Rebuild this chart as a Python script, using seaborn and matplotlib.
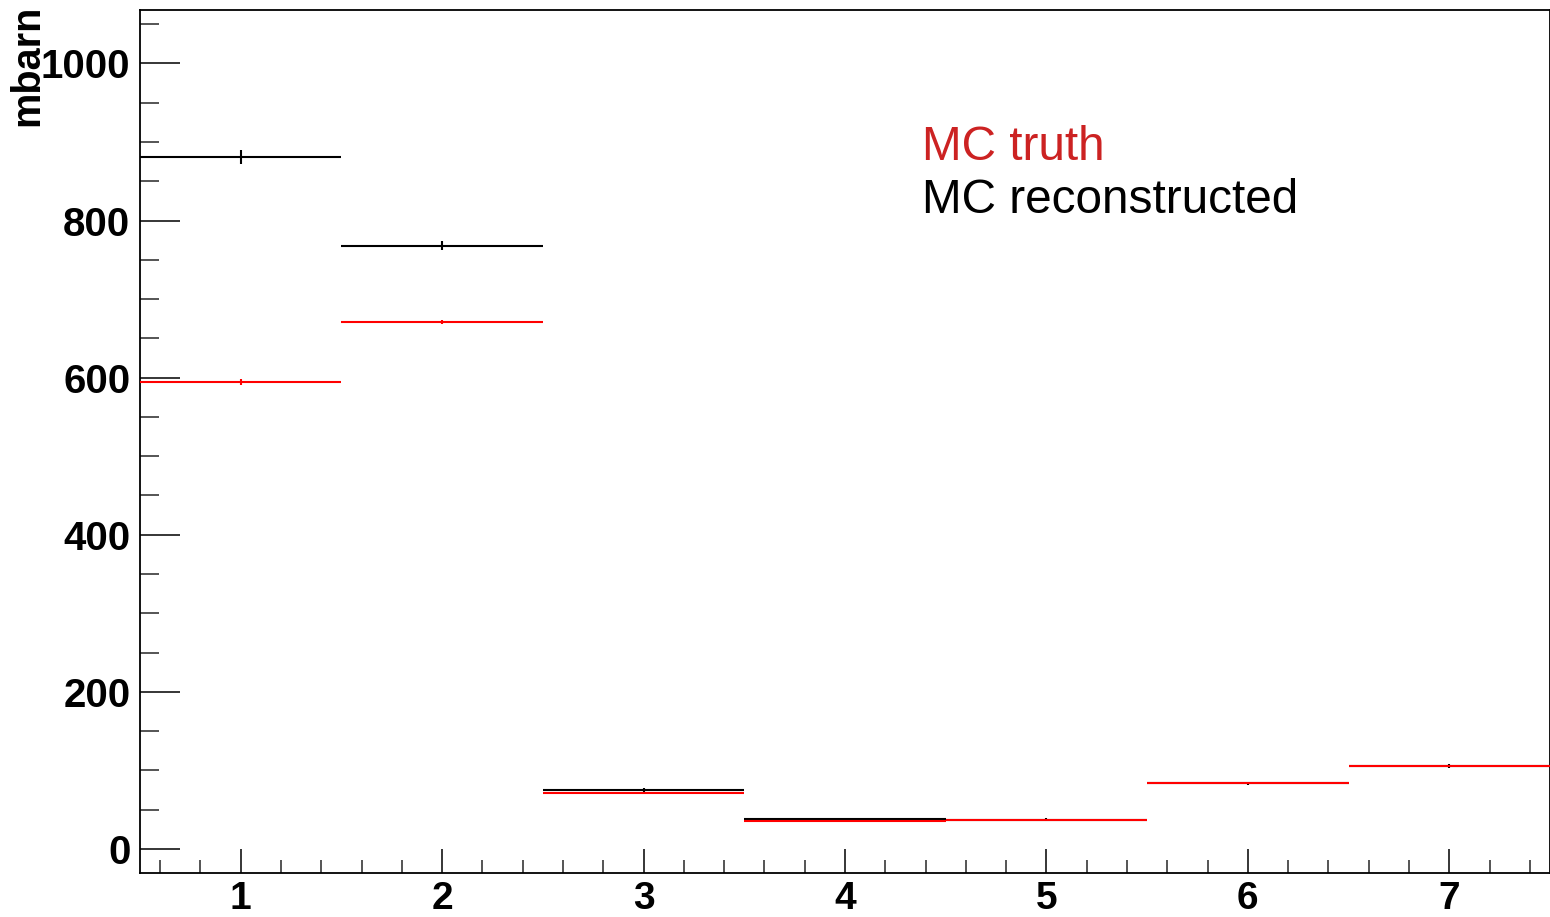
import numpy as np
import matplotlib
matplotlib.use("Agg")
import matplotlib.pyplot as plt
import seaborn as sns
from matplotlib.ticker import MultipleLocator

# ---- data ----
bins = [1, 2, 3, 4, 5, 6, 7]
reco = [881, 768, 75, 38.5, 37.5, 83.5, 106]
reco_err = [9, 6, 2, 1.5, 1.5, 2, 2.5]
truth = [594, 671, 71, 35.8, 37.5, 83.5, 106]
truth_err = [4, 2.5, 1, 1, 1, 1, 1]
legend_labels = ["MC truth", "MC reconstructed"]
y_label = "mbarn"

sns.set_style("ticks")
plt.rcParams['font.family'] = ['Liberation Sans', 'DejaVu Sans']

W, H = 1550, 917
fig = plt.figure(figsize=(W / 100, H / 100), dpi=100)
ax = fig.add_axes([140 / W, (H - 873) / H, (W - 140) / W, (873 - 10) / H])

x = np.array(bins, dtype=float)
# reconstructed (black) drawn first
ax.hlines(reco, x - 0.5, x + 0.5, color="black", lw=1.5, zorder=3)
ax.errorbar(x, reco, yerr=reco_err, fmt="none", ecolor="black", elinewidth=1.5, capsize=0, zorder=3)
# truth (red) on top
ax.hlines(truth, x - 0.5, x + 0.5, color="#ff0000", lw=1.5, zorder=4)
ax.errorbar(x, truth, yerr=truth_err, fmt="none", ecolor="#ff0000", elinewidth=1.5, capsize=0, zorder=4)

ax.set_xlim(0.5, 7.5)
ax.set_ylim(-30.6, 1068)
ax.xaxis.set_major_locator(MultipleLocator(1))
ax.xaxis.set_minor_locator(MultipleLocator(0.2))
ax.yaxis.set_major_locator(MultipleLocator(200))
ax.yaxis.set_minor_locator(MultipleLocator(50))

ax.tick_params(axis="y", which="major", direction="in", length=29, width=1.1, pad=7,
               labelsize=29, colors="black")
ax.tick_params(axis="y", which="minor", direction="in", length=14, width=1.1)
ax.tick_params(axis="x", which="major", direction="in", length=17.5, width=1.1, pad=6,
               labelsize=28, colors="black")
ax.tick_params(axis="x", which="minor", direction="in", length=9.5, width=1.1)
for lab in ax.get_xticklabels() + ax.get_yticklabels():
    lab.set_fontweight("bold")

for s in ["left", "bottom", "top", "right"]:
    ax.spines[s].set_visible(True)
    ax.spines[s].set_color("black")
    ax.spines[s].set_linewidth(1.3)

fig.text(27 / W, 1 - 5 / H, y_label, rotation=90, ha="center", va="top",
         fontsize=28.5, fontweight="bold", color="black")

fig.text(922 / W, 1 - 160 / H, legend_labels[0], ha="left", va="baseline",
         fontsize=34.4, color="#cc2222")
fig.text(922 / W, 1 - 213 / H, legend_labels[1], ha="left", va="baseline",
         fontsize=34.4, color="black")

fig.savefig("out.png", dpi=100, facecolor="white")
